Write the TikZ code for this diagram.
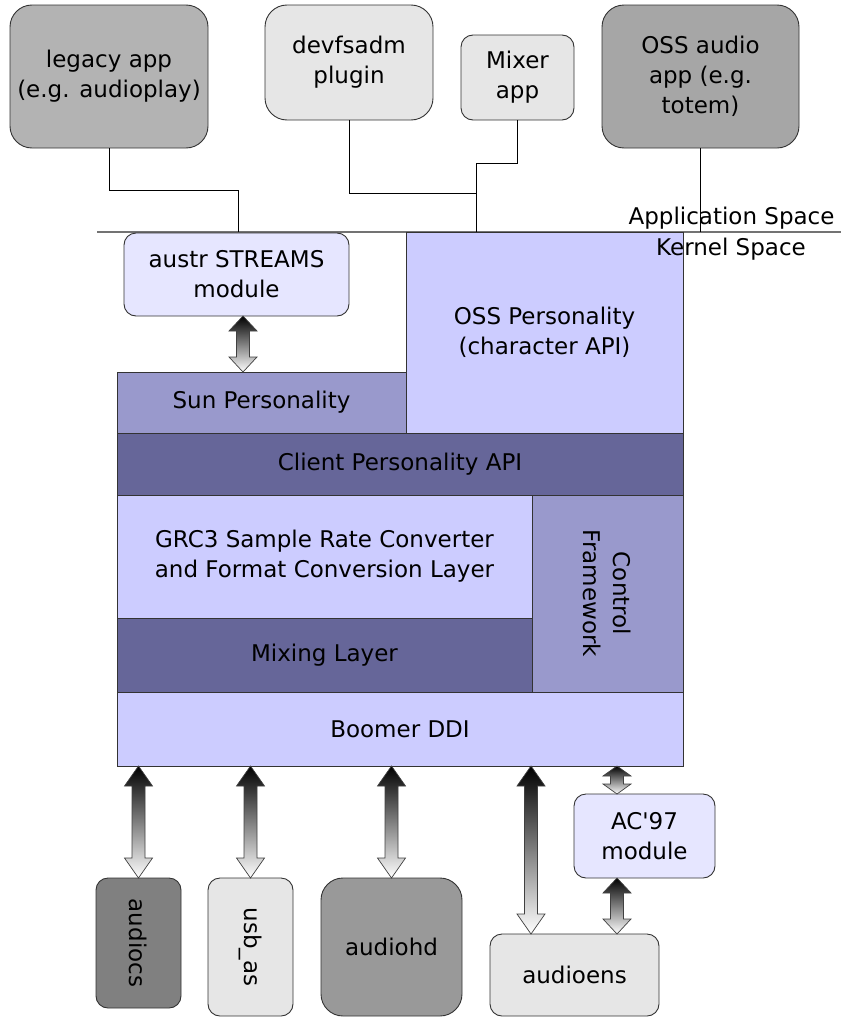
\documentclass[tikz,border=0pt]{standalone}
\usepackage{fontspec}
\setmainfont{DejaVu Sans}
\usetikzlibrary{calc}
\definecolor{appgray}{HTML}{E6E6E6}
\definecolor{legacygray}{HTML}{B3B3B3}
\definecolor{ossgray}{HTML}{A6A6A6}
\definecolor{hdgray}{HTML}{999999}
\definecolor{csgray}{HTML}{808080}
\definecolor{modlav}{HTML}{E6E6FF}
\definecolor{layerlav}{HTML}{CCCCFF}
\definecolor{perslav}{HTML}{9999CC}
\definecolor{apidark}{HTML}{666699}
% vertical double arrow: head length, top end, bottom end
\newcommand{\biarrow}[3]{%
  \path[arrowfill] let \p1=#2, \p2=#3 in
    (\x1,\y1) -- (\x1+14pt,\y1-#1pt) -- (\x1+6.5pt,\y1-#1pt)
    -- (\x1+6.5pt,\y2+#1pt) -- (\x1+14pt,\y2+#1pt) -- (\x1,\y2)
    -- (\x1-14pt,\y2+#1pt) -- (\x1-6.5pt,\y2+#1pt)
    -- (\x1-6.5pt,\y1-#1pt) -- (\x1-14pt,\y1-#1pt) -- cycle;}
\begin{document}
\begin{tikzpicture}[x=1pt,y=-1pt,font=\fontsize{23}{30}\selectfont,
  box/.style={draw=black!80,line width=0.9pt,inner sep=0pt,outer sep=0pt,align=center},
  rbox/.style={box,rounded corners=22pt},
  sbox/.style={box,rounded corners=12pt},
  wire/.style={draw=black,line width=0.8pt},
  arrowfill/.style={draw=black!75,line width=0.7pt,top color=black,bottom color=white}]
\useasboundingbox (0,0) rectangle (841,1017);

% application space
\node[rbox,fill=legacygray,minimum width=198,minimum height=143] (legacy) at (109,76.5) {legacy app\\(e.g. audioplay)};
\node[rbox,fill=appgray,minimum width=168,minimum height=115] (devfsadm) at (349,62.5) {devfsadm\\plugin};
\node[sbox,fill=appgray,minimum width=113,minimum height=85] (mixer) at (517.5,77.5) {Mixer\\app};
\node[rbox,fill=ossgray,minimum width=197,minimum height=143] (ossapp) at (700.5,76.5) {OSS audio\\app (e.g.\\totem)};

\coordinate (sepL) at (97,232);
\coordinate (sepR) at (841,232);
\coordinate (legtap) at (238,190);
\coordinate (devtap) at (476,193);
\coordinate (mixtap) at (476,163);
\draw[black!55,line width=1.3pt] (sepL) -- (sepR);
\draw[wire] (legacy.south) |- (legtap) -- (legtap |- sepL);
\draw[wire] (devfsadm.south) |- (devtap);
\draw[wire] (mixer.south) |- (mixtap) -- (mixtap |- sepL);
\draw[wire] (ossapp.south) -- (ossapp.south |- sepL);
\node[anchor=east] (appspace) at (838,218) {Application Space};

% kernel stack
\node[sbox,fill=modlav,minimum width=225,minimum height=83] (austr) at (236.5,274.5) {austr STREAMS\\module};
\node[box,fill=layerlav,minimum width=277,minimum height=201] (osspers) at (544.5,332.5) {OSS Personality\\(character API)};
\node[box,fill=perslav,minimum width=289,minimum height=61] (sun) at (261.5,402.5) {Sun Personality};
\node[box,fill=apidark,minimum width=566,minimum height=62] (client) at (400,464) {Client Personality API};
\node[box,fill=layerlav,minimum width=415,minimum height=123] (grc) at (324.5,556.5) {GRC3 Sample Rate Converter\\and Format Conversion Layer};
\node[box,fill=apidark,minimum width=415,minimum height=74] (mixing) at (324.5,655) {Mixing Layer};
\node[box,fill=perslav,minimum width=151,minimum height=197] (control) at (607.5,593.5) {};
\node[rotate=-90,align=center] (controltext) at (control.center) {Control\\Framework};
\node[box,fill=layerlav,minimum width=566,minimum height=74] (boomer) at (400,729) {Boomer DDI};
\node (kernspace) at (731,249) {Kernel Space};

% drivers
\node[sbox,fill=csgray,minimum width=85,minimum height=130] (audiocs) at (138.5,943) {};
\node[rotate=-90] (audiocstext) at (audiocs.center) {audiocs};
\node[sbox,fill=appgray,minimum width=85,minimum height=138] (usbas) at (250.5,947) {};
\node[rotate=-90] (usbastext) at (usbas.center) {usb\_as};
\node[rbox,fill=hdgray,minimum width=141,minimum height=138] (audiohd) at (391.5,947) {audiohd};
\node[sbox,fill=modlav,minimum width=141,minimum height=84] (ac97) at (644.5,836) {AC\textquotesingle97\\module};
\node[sbox,fill=appgray,minimum width=169,minimum height=82] (audioens) at (574.5,975) {audioens};

\coordinate (enstap) at ([xshift=-43.5pt]audioens.north);
\coordinate (actap) at ([xshift=-27.5pt]ac97.north);
\coordinate (austrtap) at ([xshift=6.5pt]austr.south);
\biarrow{15}{(austrtap)}{(sun.north -| austrtap)}
\biarrow{20}{(boomer.south -| audiocs)}{(audiocs.north)}
\biarrow{20}{(boomer.south -| usbas)}{(usbas.north)}
\biarrow{20}{(boomer.south -| audiohd)}{(audiohd.north)}
\biarrow{20}{(boomer.south -| enstap)}{(enstap)}
\biarrow{10}{(boomer.south -| actap)}{(actap)}
\biarrow{15}{(ac97.south -| actap)}{(audioens.north -| actap)}
\end{tikzpicture}
\end{document}
